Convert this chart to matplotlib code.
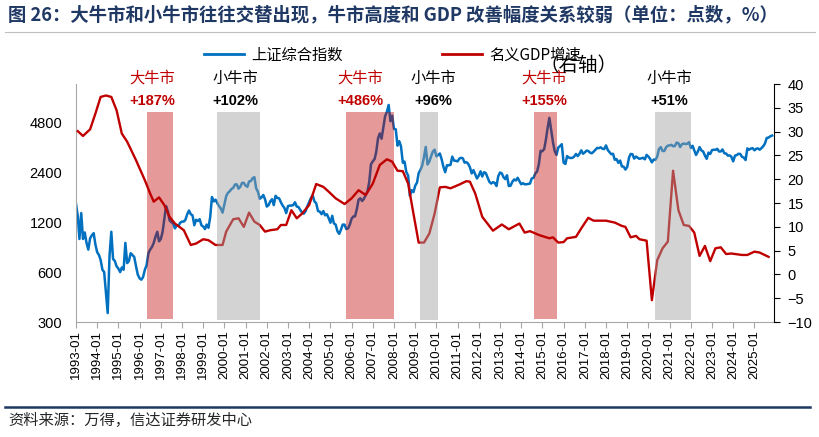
import matplotlib
matplotlib.use("Agg")
import matplotlib.pyplot as plt
import matplotlib.dates as mdates
from matplotlib.lines import Line2D
from matplotlib.ticker import FixedLocator, FixedFormatter, NullLocator
import pandas as pd

# 上证综合指数, monthly, 1993-01 .. 2025-11
sh_index = [
    1540, 1300, 950, 1360, 950, 1040, 900, 820, 960, 1000, 1030, 880,      # 1993
    790, 760, 710, 620, 600, 450, 340, 750, 1050, 720, 700, 650,           # 1994
    630, 600, 640, 620, 900, 680, 700, 780, 760, 740, 650, 580,            # 1995
    550, 540, 560, 620, 660, 780, 820, 850, 900, 980, 1050, 920,           # 1996
    950, 1050, 1250, 1500, 1400, 1230, 1200, 1180, 1100, 1150, 1140, 1190,  # 1997
    1210, 1210, 1240, 1340, 1410, 1340, 1320, 1150, 1240, 1220, 1250, 1150,  # 1998
    1130, 1090, 1160, 1110, 1280, 1700, 1600, 1640, 1560, 1500, 1450, 1370,  # 1999
    1540, 1720, 1800, 1840, 1900, 1930, 2020, 2030, 1910, 1960, 2070, 2070,  # 2000
    1990, 1960, 2110, 2120, 2210, 2240, 1920, 1830, 1660, 1690, 1750, 1650,  # 2001
    1490, 1520, 1600, 1650, 1520, 1730, 1680, 1670, 1580, 1510, 1460, 1360,  # 2002
    1500, 1510, 1510, 1520, 1580, 1490, 1480, 1420, 1370, 1350, 1400, 1500,  # 2003
    1590, 1680, 1740, 1600, 1560, 1400, 1390, 1340, 1400, 1320, 1340, 1270,  # 2004
    1190, 1310, 1180, 1160, 1060, 1020, 1080, 1160, 1160, 1090, 1100, 1160,  # 2005
    1260, 1300, 1300, 1440, 1640, 1670, 1610, 1660, 1750, 1840, 2100, 2680,  # 2006
    2790, 2880, 3180, 3840, 4110, 3820, 4470, 5220, 5550, 6100, 4870, 5260,  # 2007
    4380, 4350, 3470, 3690, 3430, 2740, 2780, 2400, 2290, 1730, 1870, 1820,  # 2008
    1990, 2080, 2370, 2480, 2630, 2960, 3410, 2670, 2780, 2990, 3200, 3280,  # 2009
    2990, 3050, 3110, 2870, 2590, 2400, 2640, 2640, 2660, 2980, 2820, 2810,  # 2010
    2790, 2900, 2930, 2910, 2740, 2760, 2700, 2570, 2360, 2470, 2330, 2200,  # 2011
    2290, 2430, 2260, 2400, 2370, 2230, 2100, 2050, 2090, 2070, 1980, 2270,  # 2012
    2390, 2360, 2240, 2180, 2300, 1980, 1990, 2100, 2170, 2140, 2220, 2120,  # 2013
    2030, 2060, 2030, 2030, 2040, 2050, 2200, 2220, 2360, 2420, 2680, 3230,  # 2014
    3210, 3310, 3750, 4440, 5100, 4300, 3660, 3210, 3050, 3380, 3450, 3540,  # 2015
    2740, 2690, 3000, 2940, 2920, 2930, 2980, 3090, 3000, 3100, 3250, 3100,  # 2016
    3160, 3240, 3220, 3150, 3120, 3190, 3270, 3360, 3350, 3390, 3320, 3310,  # 2017
    3480, 3260, 3170, 3080, 3100, 2850, 2880, 2730, 2820, 2600, 2590, 2490,  # 2018
    2580, 2940, 3090, 3080, 2900, 2980, 2930, 2890, 2910, 2930, 2870, 3050,  # 2019
    2980, 2880, 2750, 2860, 2850, 2980, 3310, 3400, 3220, 3220, 3390, 3470,  # 2020
    3480, 3510, 3440, 3450, 3620, 3590, 3400, 3540, 3570, 3550, 3560, 3640,  # 2021
    3360, 3460, 3250, 3050, 3190, 3400, 3250, 3200, 3020, 2890, 3150, 3090,  # 2022
    3260, 3280, 3270, 3320, 3200, 3200, 3290, 3120, 3110, 3020, 3030, 2970,  # 2023
    2790, 3020, 3040, 3100, 3090, 2970, 2940, 2840, 3340, 3280, 3330, 3350,  # 2024
    3250, 3320, 3340, 3280, 3350, 3440, 3570, 3860, 3880, 3950, 3990,        # 2025
]

# 名义GDP增速 (%)
gdp_dates = [
    "1993-02", "1993-05", "1993-09", "1993-12", "1994-03", "1994-06", "1994-09", "1994-12",
    "1995-03", "1995-06", "1995-11", "1996-04", "1996-07", "1996-09", "1996-12", "1997-03",
    "1997-06", "1997-09", "1998-02", "1998-06", "1998-09", "1999-01", "1999-04", "1999-08",
    "1999-12", "2000-02", "2000-06", "2000-09", "2000-12", "2001-03", "2001-06", "2001-09",
    "2001-12", "2002-03", "2002-07", "2002-09", "2002-12", "2003-03", "2003-06", "2003-09",
    "2004-01", "2004-05", "2004-09", "2004-12", "2005-04", "2005-09", "2006-01", "2006-05",
    "2006-09", "2007-01", "2007-05", "2007-09", "2007-12", "2008-03", "2008-06", "2008-09",
    "2008-12", "2009-03", "2009-06", "2009-09", "2009-12", "2010-03", "2010-06", "2010-09",
    "2011-02", "2011-06", "2011-08", "2011-11", "2012-03", "2012-09", "2013-02", "2013-06",
    "2013-12", "2014-03", "2014-06", "2014-11", "2015-05", "2015-07", "2015-10", "2016-01",
    "2016-03", "2016-08", "2016-11", "2017-03", "2017-06", "2018-01", "2018-06", "2018-10",
    "2018-12", "2019-03", "2019-06", "2019-08", "2019-12", "2020-03", "2020-06", "2020-09",
    "2020-12", "2021-03", "2021-06", "2021-09", "2021-12", "2022-03", "2022-06", "2022-09",
    "2022-12", "2023-03", "2023-06", "2023-09", "2023-12", "2024-06", "2024-09", "2025-01",
    "2025-04", "2025-09",
]
gdp_growth = [
    30.1, 29.1, 30.5, 33.8, 37.3, 37.6, 37.3, 34.5,
    29.6, 27.9, 24.0, 19.8, 17.0, 15.3, 16.2, 14.6,
    12.1, 10.7, 9.3, 6.2, 6.5, 7.4, 7.2, 6.2,
    6.2, 9.0, 11.6, 11.8, 10.0, 13.0, 11.1, 10.4,
    9.0, 9.3, 9.5, 10.4, 10.4, 13.5, 11.8, 12.8,
    14.6, 19.0, 18.4, 17.4, 16.0, 14.8, 16.0, 17.7,
    16.7, 19.1, 23.0, 24.2, 23.7, 21.8, 21.7, 19.1,
    12.8, 6.7, 6.7, 8.6, 12.8, 18.3, 18.4, 18.1,
    18.9, 19.6, 19.5, 17.0, 12.1, 9.2, 10.5, 9.5,
    10.7, 8.8, 9.1, 8.3, 7.6, 7.8, 6.7, 6.8,
    7.6, 7.9, 9.7, 11.9, 11.3, 11.3, 10.9, 10.2,
    10.0, 7.8, 8.1, 7.4, 7.1, -5.4, 3.0, 5.5,
    6.9, 21.8, 13.5, 10.4, 10.2, 8.8, 3.9, 6.0,
    2.8, 5.5, 5.7, 4.3, 4.4, 4.1, 4.1, 4.8,
    4.6, 3.7,
]

# bull market periods
span_start = ["1996-05", "1999-09", "2005-10", "2009-04", "2014-08", "2020-05"]
span_end = ["1997-08", "2001-09", "2008-01", "2010-02", "2015-09", "2022-01"]
span_kind = ["大牛市", "小牛市", "大牛市", "小牛市", "大牛市", "小牛市"]
span_gain = ["+187%", "+102%", "+486%", "+96%", "+155%", "+51%"]
label_pos = ["1996-08", "2000-07", "2006-06", "2009-11", "2015-02", "2021-01"]

left_ticks = [300, 600, 1200, 2400, 4800]
right_ticks = [-10, -5, 0, 5, 10, 15, 20, 25, 30, 35, 40]

BLUE = "#0070C0"
RED = "#C00000"
NAVY = "#1F3864"

plt.rcParams["font.family"] = ["Liberation Sans", "Noto Sans CJK SC"]
CJK = ["Noto Sans CJK SC", "Liberation Sans"]

fig = plt.figure(figsize=(8.2, 4.37), dpi=100)
ax = fig.add_axes([0.0927, 0.263, 0.851, 0.5446])

dates = pd.date_range("1993-01-01", periods=len(sh_index), freq="MS")
ax.plot(dates, sh_index, color=BLUE, lw=1.8, zorder=2)
ax.set_yscale("log", base=2)
ax.set_ylim(300, 8150)
ax.yaxis.set_major_locator(FixedLocator(left_ticks))
ax.yaxis.set_major_formatter(FixedFormatter([str(t) for t in left_ticks]))
ax.yaxis.set_minor_locator(NullLocator())
ax.tick_params(axis="y", length=0, pad=10, labelsize=10.5)

ax.set_xlim(pd.Timestamp("1993-01-01"), pd.Timestamp("2025-12-01"))
ax.xaxis.set_major_locator(mdates.YearLocator())
ax.xaxis.set_major_formatter(mdates.DateFormatter("%Y-%m"))
ax.tick_params(axis="x", rotation=90, length=4, color="#A6A6A6", labelsize=9.5, pad=2)
for s in ["top", "right"]:
    ax.spines[s].set_visible(False)
for s in ["left", "bottom"]:
    ax.spines[s].set_color("#A6A6A6")

ax2 = ax.twinx()
ax2.plot(pd.to_datetime(gdp_dates), gdp_growth, color=RED, lw=1.7, zorder=2)
ax2.set_ylim(-10, 40)
ax2.set_yticks(right_ticks)
ax2.tick_params(axis="y", length=4, pad=6, labelsize=10.5)
for s in ["top", "left", "bottom"]:
    ax2.spines[s].set_visible(False)
ax2.spines["right"].set_color("black")

trans = ax2.get_xaxis_transform()
for s, e, kind, gain, pos in zip(span_start, span_end, span_kind, span_gain, label_pos):
    big = kind == "大牛市"
    if big:
        ax2.axvspan(pd.Timestamp(s), pd.Timestamp(e), ymin=0.012, ymax=0.881,
                    color=(0.75, 0.0, 0.0), alpha=0.4, lw=0, zorder=3)
    else:
        ax2.axvspan(pd.Timestamp(s), pd.Timestamp(e), ymin=0.008, ymax=0.881,
                    color=(0.63, 0.63, 0.63), alpha=0.46, lw=0, zorder=3)
    tc = RED if big else "black"
    ax2.text(pd.Timestamp(pos), 1.025, kind, transform=trans, ha="center", va="center",
             color=tc, fontsize=11, family=CJK)
    ax2.text(pd.Timestamp(pos), 0.929, gain, transform=trans, ha="center", va="center",
             color=tc, fontsize=10.5, fontweight="bold")

handles = [Line2D([], [], color=BLUE, lw=2), Line2D([], [], color=RED, lw=2)]
fig.legend(handles, ["上证综合指数", "名义GDP增速"], ncol=2, loc="center",
           bbox_to_anchor=(0.479, 0.874), frameon=False, handlelength=2.6,
           handletextpad=0.5, columnspacing=6.5, prop={"family": CJK, "size": 11})
fig.text(0.705, 0.851, "（右轴）", ha="center", va="center", fontsize=14, family=CJK)

fig.text(0.01, 0.966, "图 26：大牛市和小牛市往往交替出现，牛市高度和 GDP 改善幅度关系较弱（单位：点数，%）",
         ha="left", va="center", fontsize=13.2, fontweight="bold", color=NAVY, family=CJK)
fig.add_artist(Line2D([0.006, 0.994], [0.927, 0.927], color="#BFBFBF", lw=0.8))
fig.add_artist(Line2D([0.006, 0.988], [0.0693, 0.0693], color=NAVY, lw=1.8))
fig.text(0.01, 0.037, "资料来源：万得，信达证券研发中心", ha="left", va="center",
         fontsize=11, color="#262626", family=CJK, style="italic")

fig.savefig("out.png", dpi=100)
